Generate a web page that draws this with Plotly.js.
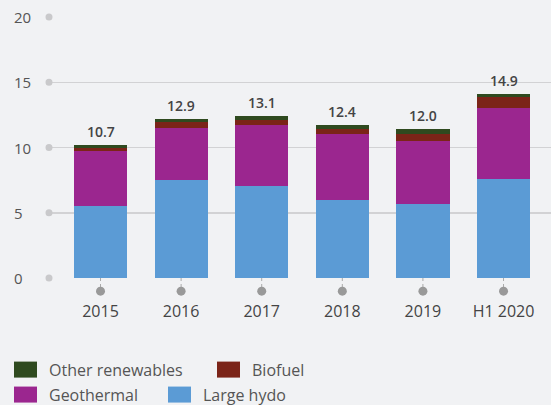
<!DOCTYPE html>
<html>
<head>
<meta charset="utf-8">
<script src="https://cdn.plot.ly/plotly-3.0.1.min.js"></script>
<style>
html,body{margin:0;padding:0;background:#f1f2f4;}
#chart{width:551px;height:405px;}
</style>
</head>
<body>
<div id="chart"></div>
<script>
const categories = ["2015", "2016", "2017", "2018", "2019", "H1 2020"];
const largeHydro = [5.53, 7.52, 7.06, 5.99, 5.68, 7.60];
const geothermal = [4.21, 3.98, 4.67, 5.05, 4.83, 5.43];
const biofuel = [0.23, 0.46, 0.36, 0.36, 0.53, 0.82];
const otherRenewables = [0.23, 0.23, 0.33, 0.33, 0.38, 0.25];
const totalLabels = ["10.7", "12.9", "13.1", "12.4", "12.0", "14.9"];
const yTicks = [0, 5, 10, 15, 20];
const legendNames = ["Other renewables", "Biofuel", "Geothermal", "Large hydo"];

const FONT = "Open Sans, Lato, sans-serif";
const colors = {"Large hydo": "#5b9bd5", "Geothermal": "#9b268f", "Biofuel": "#7b2418", "Other renewables": "#2f4a1f"};

// plot geometry (pixels)
const W = 551, H = 405, L = 49, T = 17, B = 278.3;
const PW = W - L, PH = B - T;
const YMAX = 20;
const px2x = px => (px - L) / PW;
const py2y = py => (B - py) / PH;

function bar(name, y) {
  return {type: "bar", name: name, x: categories.map((c, i) => i), y: y, width: 0.66,
    marker: {color: colors[name], line: {width: 0}}, hoverinfo: "y+name", showlegend: false};
}
const traces = [
  bar("Large hydo", largeHydro),
  bar("Geothermal", geothermal),
  bar("Biofuel", biofuel),
  bar("Other renewables", otherRenewables)
];

const tops = categories.map((c, i) => largeHydro[i] + geothermal[i] + biofuel[i] + otherRenewables[i]);

const annotations = categories.map((c, i) => ({
  x: i, y: tops[i], xref: "x", yref: "y", text: totalLabels[i], showarrow: false,
  yanchor: "bottom", yshift: 2, font: {family: FONT, size: 14, color: "#444", weight: 600}
}));
yTicks.forEach(v => annotations.push({
  x: px2x(12), y: v, xref: "paper", yref: "y", text: String(v), showarrow: false,
  xanchor: "left", yanchor: "middle", font: {family: FONT, size: 15, color: "#555"}
}));

const shapes = [];
yTicks.forEach(v => shapes.push({
  type: "circle", xref: "paper", yref: "paper", layer: "above",
  xsizemode: "pixel", ysizemode: "pixel", xanchor: 0, yanchor: v / YMAX,
  x0: -3.5, x1: 3.5, y0: -3.5, y1: 3.5,
  fillcolor: "#c9c9cb", line: {width: 0}
}));
categories.forEach((c, i) => {
  shapes.push({type: "line", xref: "x", yref: "paper", x0: i, x1: i, y0: 0, y1: py2y(290),
    line: {color: "#aaaaaa", width: 1, dash: "dot"}});
  shapes.push({type: "circle", xref: "x", yref: "paper", xsizemode: "pixel", ysizemode: "pixel",
    xanchor: i, yanchor: py2y(291.5), x0: -4.5, x1: 4.5, y0: -4.5, y1: 4.5,
    fillcolor: "#999999", line: {width: 0}});
});

// custom legend (flowing, two rows)
const legendPos = {"Other renewables": [14, 370], "Biofuel": [217, 370], "Geothermal": [14, 395], "Large hydo": [168, 395]};
legendNames.forEach(n => {
  const [lx, ly] = legendPos[n];
  shapes.push({type: "rect", xref: "paper", yref: "paper", xsizemode: "pixel", ysizemode: "pixel",
    xanchor: px2x(lx), yanchor: py2y(ly), x0: 0, x1: 23, y0: -8, y1: 8,
    fillcolor: colors[n], line: {width: 0}});
  annotations.push({x: px2x(lx + 33), y: py2y(ly), xref: "paper", yref: "paper", text: n,
    showarrow: false, xanchor: "left", yanchor: "middle",
    font: {family: FONT, size: 16, color: "#555"}});
});

const layout = {
  width: W, height: H,
  margin: {l: L, r: 0, t: T, b: H - B, autoexpand: false},
  paper_bgcolor: "#f1f2f4", plot_bgcolor: "#f1f2f4",
  barmode: "stack",
  font: {family: FONT, color: "#555"},
  xaxis: {range: [-0.639, 5.589], tickmode: "array", tickvals: categories.map((c, i) => i), ticktext: categories,
    showgrid: false, zeroline: false, showline: false,
    ticks: "outside", ticklen: 19, tickcolor: "rgba(0,0,0,0)",
    tickfont: {family: FONT, size: 16, color: "#444"}, fixedrange: true},
  yaxis: {range: [0, YMAX], tickvals: yTicks, showticklabels: false, showgrid: true,
    gridcolor: "#d2d2d4", gridwidth: 1.5, zeroline: false, showline: false, fixedrange: true},
  showlegend: false,
  annotations: annotations,
  shapes: shapes
};

Plotly.newPlot("chart", traces, layout, {displayModeBar: false, staticPlot: true});
</script>
</body>
</html>
